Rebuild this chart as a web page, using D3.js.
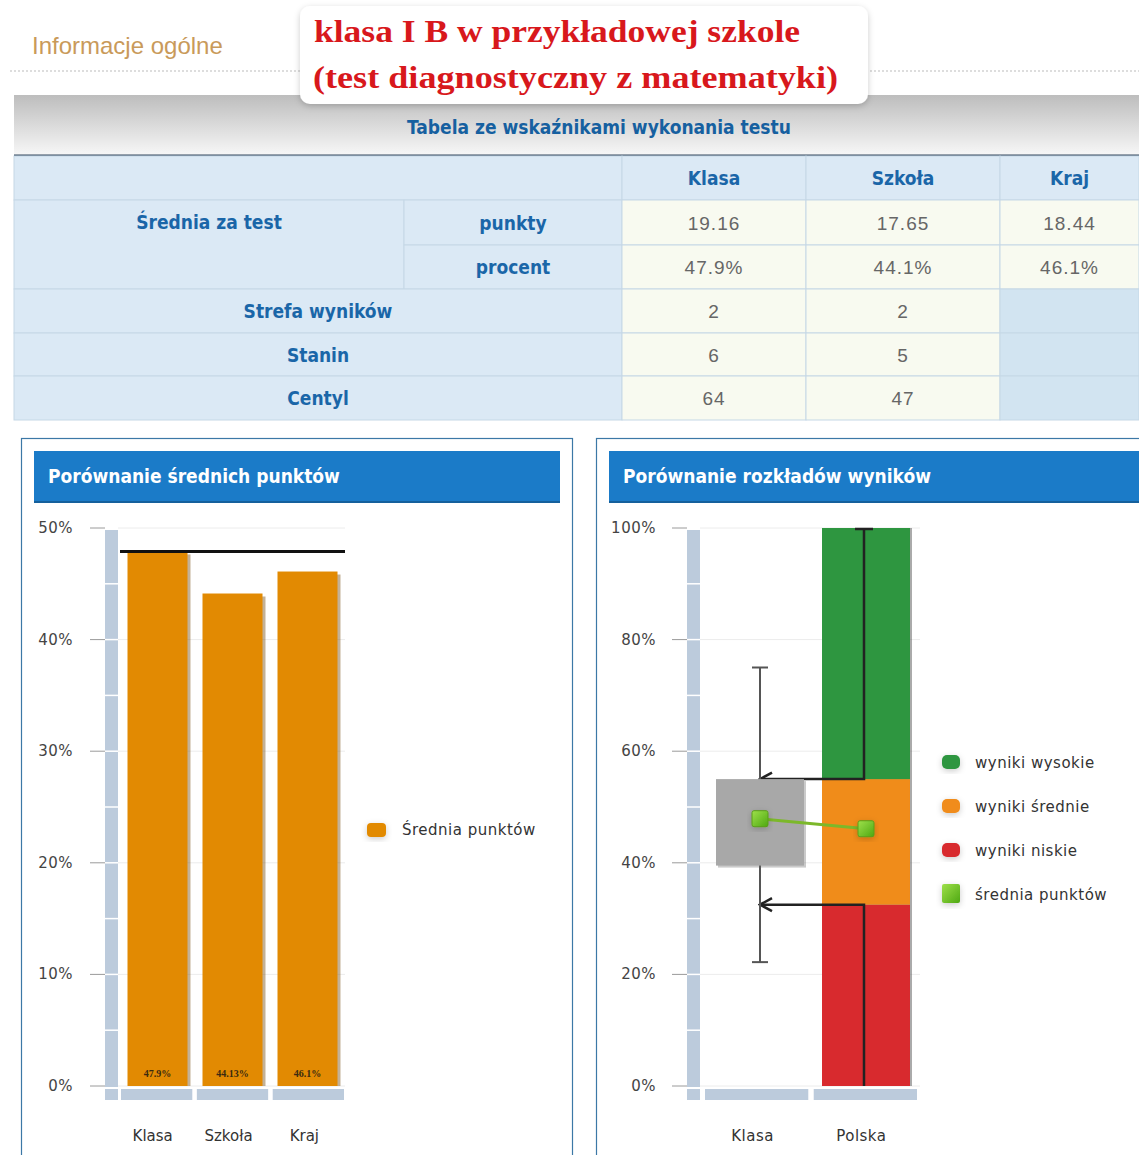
<!DOCTYPE html>
<html>
<head>
<meta charset="utf-8">
<script src="https://cdn.jsdelivr.net/npm/d3@7"></script>
<style>
  body { margin: 0; background: #fff; }
  svg { display: block; }
</style>
</head>
<body>
<svg id="chart"></svg>
<script>
const width = 1139;
const height = 1155;

// table values
const tableCols = ["Klasa", "Szkoła", "Kraj"];
const punkty = ["19.16", "17.65", "18.44"];
const procent = ["47.9%", "44.1%", "46.1%"];
const strefa = ["2", "2", ""];
const stanin = ["6", "5", ""];
const centyl = ["64", "47", ""];

// left chart
const meanCats = ["Klasa", "Szkoła", "Kraj"];
const meanValues = [47.9, 44.13, 46.1];
const meanLabels = ["47.9%", "44.13%", "46.1%"];
const refLine = 47.9;
const leftTicks = [0, 10, 20, 30, 40, 50];

// right chart
const distCats = ["Klasa", "Polska"];
const polskaBands = [
  { key: "wyniki niskie", from: 0, to: 32.5 },
  { key: "wyniki średnie", from: 32.5, to: 55 },
  { key: "wyniki wysokie", from: 55, to: 100 }
];
const klasaBox = [39.5, 55];
const klasaWhisker = [22.2, 75];
const distMeans = [47.9, 46.1];
const rightTicks = [0, 20, 40, 60, 80, 100];
const legendItems = ["wyniki wysokie", "wyniki średnie", "wyniki niskie", "średnia punktów"];
const legendColors = ["#2e9640", "#f08c1a", "#d82a2e", "#6cc222"];

const svg = d3.select("#chart").attr("width", width).attr("height", height);
const defs = svg.append("defs");

const band = defs.append("linearGradient").attr("id", "band").attr("x1", 0).attr("y1", 0).attr("x2", 0).attr("y2", 1);
band.append("stop").attr("offset", "0%").attr("stop-color", "#bdbdbd");
band.append("stop").attr("offset", "100%").attr("stop-color", "#f7f7f7");

const lg = defs.append("linearGradient").attr("id", "lgreen").attr("x1", 0).attr("y1", 0).attr("x2", 1).attr("y2", 1);
lg.append("stop").attr("offset", "0%").attr("stop-color", "#9ee04a");
lg.append("stop").attr("offset", "100%").attr("stop-color", "#4ea812");

const shadow = defs.append("filter").attr("id", "shadow").attr("x", -0.3).attr("y", -0.3).attr("width", 1.6).attr("height", 1.6);
shadow.append("feDropShadow").attr("dx", 0).attr("dy", 2).attr("stdDeviation", 3).attr("flood-color", "#000").attr("flood-opacity", 0.2);

// open arrow head, tip at the end of the path
defs.append("marker").attr("id", "arrow").attr("viewBox", "0 0 16 16").attr("refX", 14).attr("refY", 8)
  .attr("markerWidth", 16).attr("markerHeight", 16).attr("markerUnits", "userSpaceOnUse").attr("orient", "auto")
  .append("path").attr("d", "M2,1.5 L14,8 L2,14.5").attr("fill", "none").attr("stroke", "#222").attr("stroke-width", 2.5);

// ---------- header ----------
svg.append("text").attr("x", 32).attr("y", 54)
  .style("font", "24px 'Liberation Sans', Arial, sans-serif").attr("fill", "#c99a5a")
  .text("Informacje ogólne");

svg.append("line").attr("x1", 10).attr("x2", width).attr("y1", 71).attr("y2", 71)
  .attr("stroke", "#bbb").attr("stroke-dasharray", "2,2");

svg.append("rect").attr("x", 14).attr("y", 95).attr("width", width - 14).attr("height", 60).attr("fill", "url(#band)");
svg.append("line").attr("x1", 14).attr("x2", width).attr("y1", 155.5).attr("y2", 155.5).attr("stroke", "#34495e").attr("stroke-width", 2);

svg.append("rect").attr("x", 300).attr("y", 6).attr("width", 568).attr("height", 98).attr("rx", 10)
  .attr("fill", "#fff").attr("filter", "url(#shadow)");
svg.append("text").attr("x", 314).attr("y", 42)
  .style("font", "bold 32px 'Liberation Serif', 'DejaVu Serif', serif").attr("fill", "#d8181c")
  .attr("textLength", 486).attr("lengthAdjust", "spacingAndGlyphs")
  .text("klasa I B w przykładowej szkole");
svg.append("text").attr("x", 313).attr("y", 88)
  .style("font", "bold 32px 'Liberation Serif', 'DejaVu Serif', serif").attr("fill", "#d8181c")
  .attr("textLength", 525).attr("lengthAdjust", "spacingAndGlyphs")
  .text("(test diagnostyczny z matematyki)");

const narrow = "'Liberation Sans Narrow', 'DejaVu Sans Condensed', 'Roboto', sans-serif";
svg.append("text").attr("x", 599).attr("y", 134).attr("text-anchor", "middle")
  .style("font", `bold 19px ${narrow}`).attr("fill", "#1660a0")
  .text("Tabela ze wskaźnikami wykonania testu");

// ---------- table ----------
const rowY = [156, 200, 245, 289, 333, 376, 420];
const colX = [14, 404, 622, 806, 1000, 1139];
const lblFill = "#dbe9f5";
const dataFill = "#f8faf0";
const emptyFill = "#d2e4f1";
const lblColor = "#1a66a8";
const table = svg.append("g");

function cell(x0, x1, y0, y1, fill, txt, isLabel) {
  table.append("rect").attr("x", x0).attr("y", y0).attr("width", x1 - x0).attr("height", y1 - y0)
    .attr("fill", fill).attr("stroke", "#c5d8e6").attr("stroke-width", 1);
  if (txt) {
    table.append("text").attr("x", (x0 + x1) / 2).attr("y", (y0 + y1) / 2 + 7).attr("text-anchor", "middle")
      .style("font", isLabel ? `bold 19px ${narrow}` : "19px 'Liberation Sans', sans-serif")
      .style("letter-spacing", isLabel ? "0px" : "1px")
      .attr("fill", isLabel ? lblColor : "#666")
      .text(txt);
  }
}

cell(colX[0], colX[2], rowY[0], rowY[1], lblFill, "", true);
tableCols.forEach((c, i) => cell(colX[i + 2], colX[i + 3], rowY[0], rowY[1], lblFill, c, true));
cell(colX[0], colX[1], rowY[1], rowY[3], lblFill, "", true);
table.append("text").attr("x", (colX[0] + colX[1]) / 2).attr("y", rowY[1] + 29).attr("text-anchor", "middle")
  .style("font", `bold 19px ${narrow}`).attr("fill", lblColor).text("Średnia za test");
cell(colX[1], colX[2], rowY[1], rowY[2], lblFill, "punkty", true);
cell(colX[1], colX[2], rowY[2], rowY[3], lblFill, "procent", true);
punkty.forEach((v, i) => cell(colX[i + 2], colX[i + 3], rowY[1], rowY[2], dataFill, v, false));
procent.forEach((v, i) => cell(colX[i + 2], colX[i + 3], rowY[2], rowY[3], dataFill, v, false));
[["Strefa wyników", strefa], ["Stanin", stanin], ["Centyl", centyl]].forEach(([lbl, vals], r) => {
  cell(colX[0], colX[2], rowY[r + 3], rowY[r + 4], lblFill, lbl, true);
  vals.forEach((v, i) => cell(colX[i + 2], colX[i + 3], rowY[r + 3], rowY[r + 4], v === "" ? emptyFill : dataFill, v, false));
});

// ---------- panels ----------
function panel(x, w, title) {
  svg.append("rect").attr("x", x + 0.5).attr("y", 438.5).attr("width", w).attr("height", 730)
    .attr("fill", "#fff").attr("stroke", "#3c78a6").attr("stroke-width", 1.2);
  svg.append("rect").attr("x", x + 13).attr("y", 451).attr("width", w - 25).attr("height", 52).attr("fill", "#1b7bc8");
  svg.append("rect").attr("x", x + 13).attr("y", 501).attr("width", w - 25).attr("height", 2).attr("fill", "#15609c");
  svg.append("text").attr("x", x + 27).attr("y", 483)
    .style("font", `bold 19px ${narrow}`).attr("fill", "#fff").text(title);
}
panel(21, 551, "Porównanie średnich punktów");
panel(596, 560, "Porównanie rozkładów wyników");

const axisFont = "15px 'DejaVu Sans', sans-serif";
const wallColor = "#bccbdc";

function yAxisFrame(y, ticks, minor, labelX, tickX0, wallX, plotX1, fmt) {
  const g = svg.append("g");
  g.selectAll("line.grid").data(ticks).join("line").attr("class", "grid")
    .attr("x1", wallX + 13).attr("x2", plotX1).attr("y1", d => y(d)).attr("y2", d => y(d))
    .attr("stroke", "#ececec");
  g.selectAll("line.tk").data(ticks).join("line").attr("class", "tk")
    .attr("x1", tickX0).attr("x2", wallX).attr("y1", d => y(d)).attr("y2", d => y(d))
    .attr("stroke", "#9a9a9a");
  g.selectAll("text").data(ticks).join("text")
    .attr("x", labelX).attr("y", d => y(d) + 5).attr("text-anchor", "end")
    .style("font", axisFont).style("letter-spacing", "0.5px").attr("fill", "#444").text(fmt);
  g.append("rect").attr("x", wallX).attr("y", y(ticks[ticks.length - 1]) + 2).attr("width", 13)
    .attr("height", y(0) - y(ticks[ticks.length - 1]) + 12).attr("fill", wallColor);
  g.selectAll("line.mn").data(minor).join("line").attr("class", "mn")
    .attr("x1", wallX).attr("x2", wallX + 13).attr("y1", d => y(d)).attr("y2", d => y(d))
    .attr("stroke", "#fff").attr("stroke-width", 1.5);
  g.append("line").attr("x1", wallX).attr("x2", wallX + 13).attr("y1", y(0) + 2).attr("y2", y(0) + 2)
    .attr("stroke", "#fff").attr("stroke-width", 2);
}

// ---------- left chart ----------
const yL = d3.scaleLinear().domain([0, 50]).range([1086, 528]);
const xL = d3.scaleBand().domain(meanCats).range([120, 345]).paddingInner(0.2).paddingOuter(0.1);
const xLfloor = d3.scaleBand().domain(meanCats).range([121, 344]).paddingInner(0.06);

yAxisFrame(yL, leftTicks, d3.range(5, 50, 5), 73, 90, 105, 345, d => d + "%");

svg.append("g").selectAll("rect").data(meanCats).join("rect")
  .attr("x", d => xLfloor(d)).attr("y", 1089).attr("width", xLfloor.bandwidth()).attr("height", 11).attr("fill", wallColor);

const barsL = svg.append("g");
barsL.selectAll("rect.sh").data(meanValues).join("rect").attr("class", "sh")
  .attr("x", (d, i) => xL(meanCats[i]) + 3).attr("y", d => yL(d) + 3)
  .attr("width", xL.bandwidth()).attr("height", d => yL(0) - yL(d) - 3).attr("fill", "#7a5218").attr("opacity", 0.45);
barsL.selectAll("rect.bar").data(meanValues).join("rect").attr("class", "bar")
  .attr("x", (d, i) => xL(meanCats[i])).attr("y", d => yL(d))
  .attr("width", xL.bandwidth()).attr("height", d => yL(0) - yL(d)).attr("fill", "#e28a02");
barsL.selectAll("text").data(meanLabels).join("text")
  .attr("x", (d, i) => xL(meanCats[i]) + xL.bandwidth() / 2).attr("y", 1077).attr("text-anchor", "middle")
  .style("font", "bold 10px 'Liberation Serif', serif").attr("fill", "#3a2a10").text(d => d);

svg.append("line").attr("x1", 120).attr("x2", 345).attr("y1", yL(refLine)).attr("y2", yL(refLine))
  .attr("stroke", "#111").attr("stroke-width", 3);

svg.append("g").selectAll("text").data(meanCats).join("text")
  .attr("x", d => xLfloor(d) + xLfloor.bandwidth() / 2 - 4).attr("y", 1141).attr("text-anchor", "middle")
  .style("font", axisFont).attr("fill", "#333").text(d => d);

svg.append("rect").attr("x", 367).attr("y", 823).attr("width", 19).attr("height", 14).attr("rx", 4)
  .attr("fill", "#e28a02").attr("filter", "url(#shadow)");
svg.append("text").attr("x", 402).attr("y", 835).style("font", "15px 'DejaVu Sans', sans-serif")
  .style("letter-spacing", "0.5px").attr("fill", "#333").text("Średnia punktów");

// ---------- right chart ----------
const yR = d3.scaleLinear().domain([0, 100]).range([1086, 528]);
const xR = d3.scaleBand().domain(distCats).range([707, 919]).paddingInner(0.17).paddingOuter(0.085);
const xRfloor = d3.scaleBand().domain(distCats).range([705, 917]).paddingInner(0.05);
const cx = d => xR(d) + xR.bandwidth() / 2;

yAxisFrame(yR, rightTicks, d3.range(10, 100, 10), 656, 672, 687, 920, d => d + "%");

svg.append("g").selectAll("rect").data(distCats).join("rect")
  .attr("x", d => xRfloor(d)).attr("y", 1089).attr("width", xRfloor.bandwidth()).attr("height", 11).attr("fill", wallColor);

const bandColor = { "wyniki niskie": "#d82a2e", "wyniki średnie": "#f08c1a", "wyniki wysokie": "#2e9640" };
svg.append("rect").attr("x", xR("Polska") + 2).attr("y", yR(100)).attr("width", xR.bandwidth())
  .attr("height", yR(0) - yR(100)).attr("fill", "#555").attr("opacity", 0.5);
svg.append("g").selectAll("rect").data(polskaBands).join("rect")
  .attr("x", xR("Polska")).attr("y", d => yR(d.to)).attr("width", xR.bandwidth())
  .attr("height", d => yR(d.from) - yR(d.to)).attr("fill", d => bandColor[d.key]);

// arrows from Polska band limits to Klasa
const conn = svg.append("g").attr("fill", "none").attr("stroke", "#222").attr("stroke-width", 2.5);
const px = cx("Polska") - 2;
conn.append("path").attr("d", `M${px},${yR(100)} V${yR(polskaBands[1].to)} H${cx("Klasa")}`)
  .attr("marker-end", "url(#arrow)");
conn.append("line").attr("x1", px - 9).attr("x2", px + 9).attr("y1", yR(100) + 1).attr("y2", yR(100) + 1);
conn.append("path").attr("d", `M${px},${yR(0)} V${yR(polskaBands[0].to)} H${cx("Klasa")}`)
  .attr("marker-end", "url(#arrow)");

// whisker
const wh = svg.append("g").attr("stroke", "#555").attr("stroke-width", 2);
wh.append("line").attr("x1", cx("Klasa")).attr("x2", cx("Klasa")).attr("y1", yR(klasaWhisker[1])).attr("y2", yR(klasaWhisker[0]));
wh.selectAll("line.cap").data(klasaWhisker).join("line").attr("class", "cap")
  .attr("x1", cx("Klasa") - 8).attr("x2", cx("Klasa") + 8).attr("y1", d => yR(d)).attr("y2", d => yR(d));

// box
svg.append("rect").attr("x", xR("Klasa") + 2).attr("y", yR(klasaBox[1]) + 2).attr("width", xR.bandwidth())
  .attr("height", yR(klasaBox[0]) - yR(klasaBox[1])).attr("fill", "#666").attr("opacity", 0.35);
svg.append("rect").attr("x", xR("Klasa")).attr("y", yR(klasaBox[1])).attr("width", xR.bandwidth())
  .attr("height", yR(klasaBox[0]) - yR(klasaBox[1])).attr("fill", "#a8a8a8");

// means
svg.append("path").datum(distMeans)
  .attr("d", d3.line().x((d, i) => cx(distCats[i])).y(d => yR(d)))
  .attr("stroke", "#7cb82a").attr("stroke-width", 3).attr("fill", "none");
svg.append("g").selectAll("rect").data(distMeans).join("rect")
  .attr("x", (d, i) => cx(distCats[i]) - 8).attr("y", d => yR(d) - 8).attr("width", 16).attr("height", 16).attr("rx", 2)
  .attr("fill", "url(#lgreen)").attr("stroke", "#5a9e1a").attr("stroke-width", 1).attr("filter", "url(#shadow)");

svg.append("g").selectAll("text").data(distCats).join("text")
  .attr("x", d => xRfloor(d) + xRfloor.bandwidth() / 2 - 4).attr("y", 1141).attr("text-anchor", "middle")
  .style("font", axisFont).style("letter-spacing", "0.5px").attr("fill", "#333").text(d => d);

// right legend
const leg = svg.append("g");
leg.selectAll("rect").data(legendItems).join("rect")
  .attr("x", 942).attr("y", (d, i) => 755 + i * 44 - (i === 3 ? 3 : 0))
  .attr("width", 18).attr("height", (d, i) => i === 3 ? 19 : 14).attr("rx", (d, i) => i === 3 ? 2 : 5)
  .attr("fill", (d, i) => i === 3 ? "url(#lgreen)" : legendColors[i]).attr("filter", "url(#shadow)");
leg.selectAll("text").data(legendItems).join("text")
  .attr("x", 975).attr("y", (d, i) => 768 + i * 44)
  .style("font", "15px 'DejaVu Sans', sans-serif").style("letter-spacing", "0.5px").attr("fill", "#333").text(d => d);
</script>
</body>
</html>
